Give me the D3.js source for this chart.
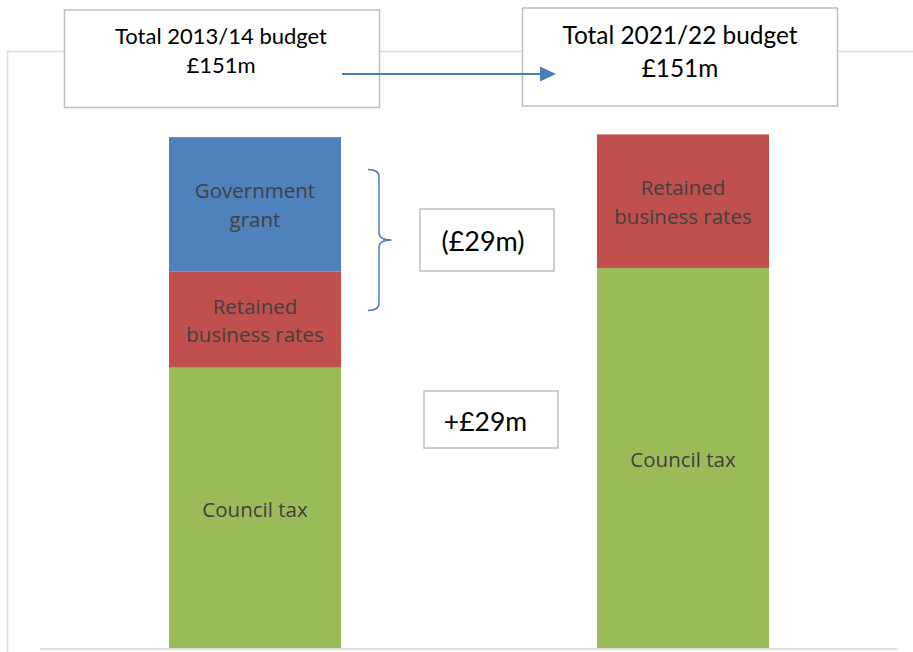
<!DOCTYPE html>
<html>
<head>
<meta charset="utf-8">
<script src="https://cdn.jsdelivr.net/npm/d3@7"></script>
<style>
  html, body { margin: 0; padding: 0; background: #ffffff; }
  svg { display: block; }
</style>
</head>
<body>
<svg id="chart" width="913" height="652"></svg>
<script>
// Funding sources, £m, for each budget year
const categories = ["2013/14", "2021/22"];
const councilTax = [82.7, 112.1];
const businessRates = [28.3, 39.4];
const governmentGrant = [39.7, 0];

const seriesKeys = ["councilTax", "businessRates", "governmentGrant"];
const seriesLabels = [["Council tax"], ["Retained", "business rates"], ["Government", "grant"]];
const seriesColors = ["#9bbb59", "#c0504d", "#4f81bd"];

const totalTitles = ["Total 2013/14 budget", "Total 2021/22 budget"];
const totalValues = ["£151m", "£151m"];
const changeLabels = ["(£29m)", "+£29m"];

const rows = categories.map((c, i) => ({
  category: c,
  councilTax: councilTax[i],
  businessRates: businessRates[i],
  governmentGrant: governmentGrant[i]
}));

const svg = d3.select("#chart");
const boxFont = "Lato, 'Liberation Sans', sans-serif";
const labelFont = "'Open Sans', 'Noto Sans', sans-serif";

// Scales
const x = d3.scaleBand()
  .domain(categories)
  .range([41, 897])
  .paddingInner(0.598)
  .paddingOuter(0.299);

const y = d3.scaleLinear()
  .domain([0, 160])
  .range([648, 648 - 160 * 3.39]);

// Chart frame (left and top edges of the plot border)
svg.append("path")
  .attr("d", "M7.5,652 L7.5,51.5 L913,51.5")
  .attr("fill", "none")
  .attr("stroke", "#d9d9d9")
  .attr("stroke-width", 1.5);

// Stacked bars
const stacked = d3.stack().keys(seriesKeys)(rows);

const layers = svg.append("g").selectAll("g")
  .data(stacked)
  .join("g")
  .attr("fill", (d, i) => seriesColors[i]);

layers.selectAll("rect")
  .data(d => d.filter(s => s[1] - s[0] > 0))
  .join("rect")
  .attr("x", d => x(d.data.category))
  .attr("y", d => y(d[1]))
  .attr("width", x.bandwidth())
  .attr("height", d => y(d[0]) - y(d[1]));

// Segment labels
stacked.forEach((layer, li) => {
  const lines = seriesLabels[li];
  layer.forEach(seg => {
    if (seg[1] - seg[0] <= 0) return;
    const cx = x(seg.data.category) + x.bandwidth() / 2;
    const cy = (y(seg[0]) + y(seg[1])) / 2;
    const offsets = lines.length === 1 ? [8.7] : [-6, 22.5];
    const t = svg.append("text")
      .attr("text-anchor", "middle")
      .attr("font-family", labelFont)
      .attr("font-size", 20.5)
      .attr("fill", "#404040");
    lines.forEach((ln, k) => {
      t.append("tspan").attr("x", cx).attr("y", cy + offsets[k]).text(ln);
    });
  });
});

// Category axis baseline
svg.append("line")
  .attr("x1", 40).attr("x2", 898)
  .attr("y1", y(0) + 1).attr("y2", y(0) + 1)
  .attr("stroke", "#d9d9d9")
  .attr("stroke-width", 1.5);

// Total budget boxes above each bar
const totalBoxes = [
  { x: 64.5, y: 10, w: 315, h: 97.5, tx: 221, size: 22, lh: 28.4 },
  { x: 522.5, y: 8, w: 315, h: 98, tx: 680, size: 24.4, lh: 32.4 }
];
totalBoxes.forEach((b, i) => {
  svg.append("rect")
    .attr("x", b.x).attr("y", b.y).attr("width", b.w).attr("height", b.h)
    .attr("fill", "#ffffff").attr("stroke", "#bfbfbf").attr("stroke-width", 1.5);
  const t = svg.append("text")
    .attr("text-anchor", "middle")
    .attr("font-family", boxFont)
    .attr("font-size", b.size)
    .attr("fill", "#000000");
  t.append("tspan").attr("x", b.tx).attr("y", 44.3).text(totalTitles[i]);
  t.append("tspan").attr("x", b.tx).attr("y", 44.3 + b.lh).text(totalValues[i]);
});

// Change annotation boxes
const changeBoxes = [
  { x: 420, y: 209, w: 134, h: 62, tx: 483, ty: 250.7, size: 27 },
  { x: 424, y: 391, w: 134, h: 57, tx: 485.5, ty: 430.7, size: 26.5 }
];
changeBoxes.forEach((b, i) => {
  svg.append("rect")
    .attr("x", b.x).attr("y", b.y).attr("width", b.w).attr("height", b.h)
    .attr("fill", "#ffffff").attr("stroke", "#bfbfbf").attr("stroke-width", 1.5);
  svg.append("text")
    .attr("x", b.tx).attr("y", b.ty)
    .attr("text-anchor", "middle")
    .attr("font-family", boxFont)
    .attr("font-size", b.size)
    .attr("fill", "#000000")
    .text(changeLabels[i]);
});

// Brace grouping the grant and business rates reduction
svg.append("path")
  .attr("d", "M368,169.5 Q379,169.5 379,177 L379,233 Q379,240 391.5,240 Q379,240 379,247 L379,303 Q379,310.5 368,310.5")
  .attr("fill", "none")
  .attr("stroke", "#4a7ebb")
  .attr("stroke-width", 1.5);

// Arrow linking the two totals
svg.append("line")
  .attr("x1", 342).attr("x2", 542)
  .attr("y1", 74).attr("y2", 74)
  .attr("stroke", "#4a7ebb")
  .attr("stroke-width", 2);
svg.append("path")
  .attr("d", "M540,66.5 L556,74 L540,81.5 Z")
  .attr("fill", "#4a7ebb");
</script>
</body>
</html>
